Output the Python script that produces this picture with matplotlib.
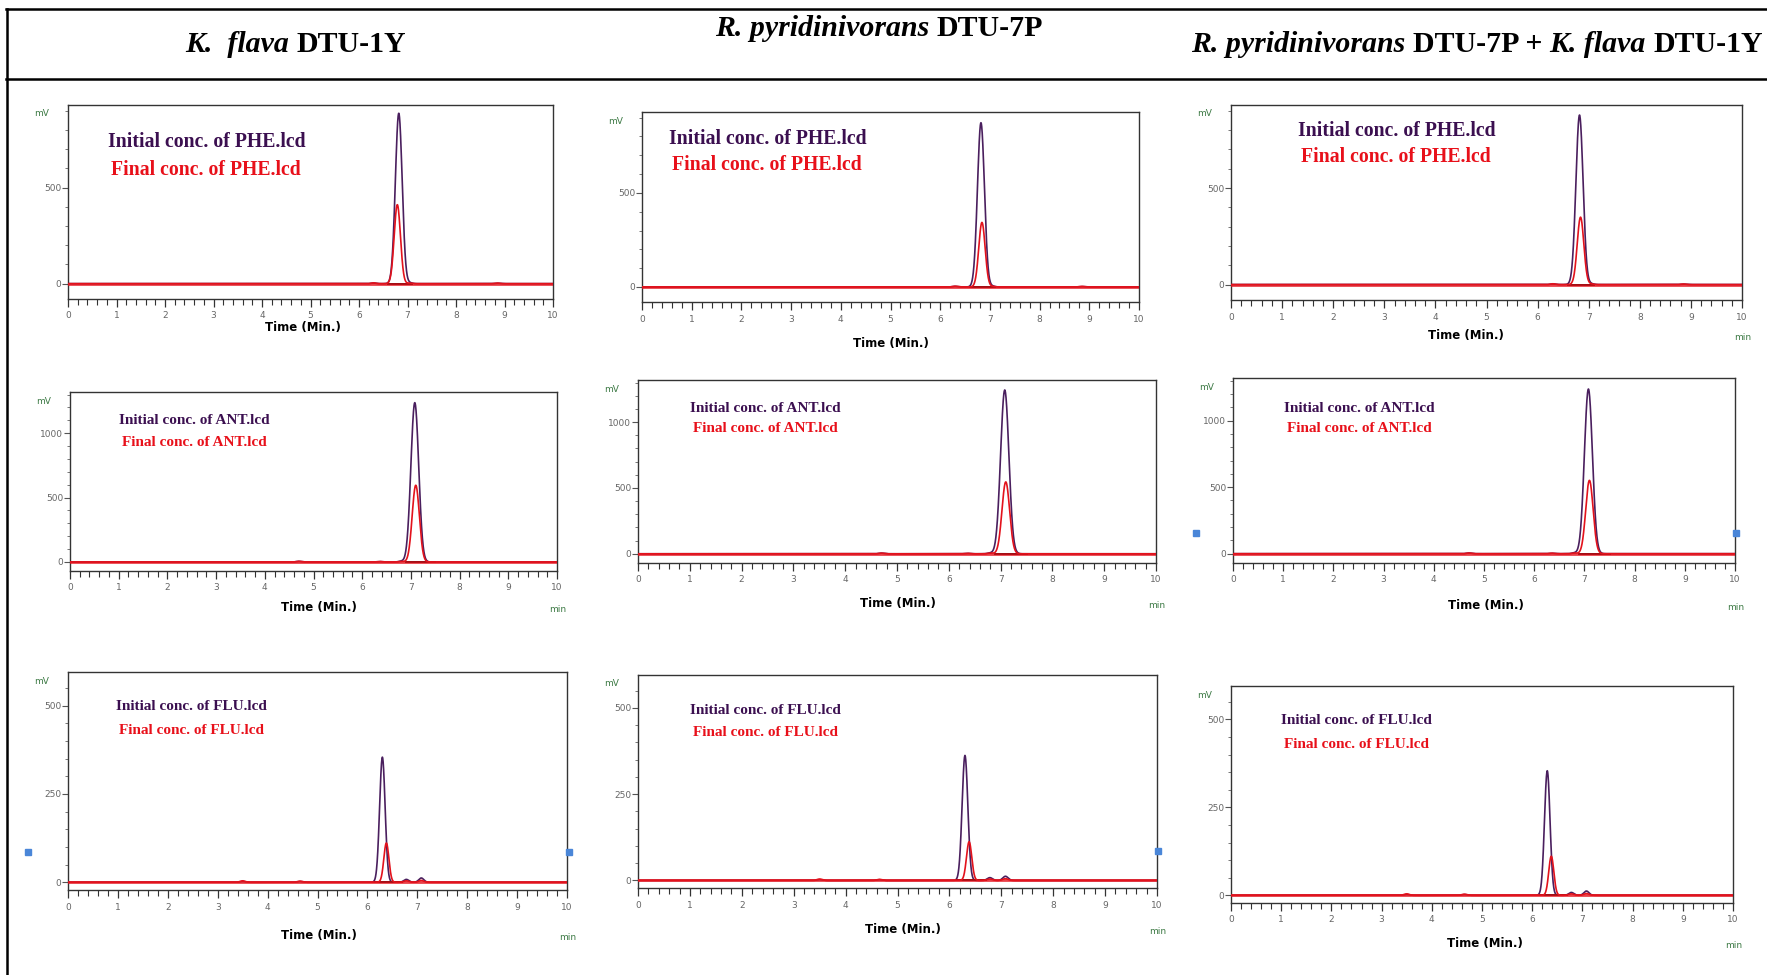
import matplotlib
matplotlib.use("Agg")
import matplotlib.pyplot as plt
import numpy as np
from matplotlib import font_manager
from matplotlib.lines import Line2D
from matplotlib.transforms import IdentityTransform

# strains (columns) and compounds (rows)
strain_titles = [
    [("K.  flava", "italic"), ("DTU-1Y", "normal")],
    [("R. pyridinivorans", "italic"), ("DTU-7P", "normal")],
    [("R. pyridinivorans", "italic"), ("DTU-7P +", "normal"),
     ("K. flava", "italic"), ("DTU-1Y", "normal")],
]
compounds = ["PHE", "ANT", "FLU"]

# main peak: retention time (min) and height (mV), one value per strain
rt_initial = [[6.82, 6.82, 6.82], [7.08, 7.08, 7.08], [6.30, 6.30, 6.30]]
rt_final = [[6.79, 6.84, 6.84], [7.10, 7.10, 7.10], [6.38, 6.38, 6.38]]
h_initial = [[887, 873, 878], [1237, 1244, 1237], [354, 362, 354]]
h_final = [[411, 343, 349], [596, 546, 551], [111, 112, 111]]
peak_sigma = [0.070, 0.080, 0.055]

# small extra peaks per compound: (time, initial height, final height)
minor_peaks = [
    [(6.30, 3, 4), (7.05, 4, 3), (8.85, 2, 3)],
    [(4.70, 5, 5), (6.35, 3, 4), (6.80, 6, 5)],
    [(3.50, 2, 4), (4.65, 2, 3), (6.78, 8, 4), (7.08, 12, 5)],
]
# integration baseline window of the main peak (min)
base_window = [(6.60, 7.10), (6.90, 7.50), (6.15, 6.70)]

y_limits = [(-80, 930), (-70, 1320), (-22, 595)]
y_major = [[0, 500], [0, 500, 1000], [0, 250, 500]]
y_minor_step = [100, 100, 50]

W, H = 1767, 975
fig = plt.figure(figsize=(W / 100, H / 100), dpi=100)
fig.patch.set_facecolor("white")
renderer = fig.canvas.get_renderer()
ident = IdentityTransform()

installed = {f.name for f in font_manager.fontManager.ttflist}
narrow = "Liberation Sans Narrow" if "Liberation Sans Narrow" in installed else "DejaVu Sans"
time_size = 12 if narrow == "Liberation Sans Narrow" else 8.5
serif = "Liberation Serif"

C_INIT = "#4a1f5e"
C_FINAL = "#e3121c"
C_INIT_TXT = "#3b0f50"
C_FINAL_TXT = "#e8101a"
C_GREEN = "#3d7a45"
C_TICK = "#666666"


def text_px(x, y, s, **kw):
    return fig.text(x, H - y, s, transform=ident, **kw)


def rich_text(xc, yc, pieces, size):
    probe = text_px(0, 0, "xx", fontsize=size, family=serif, fontweight="bold")
    w2 = probe.get_window_extent(renderer).width
    probe.set_text("x x")
    space = probe.get_window_extent(renderer).width - w2
    probe.remove()
    arts = [text_px(0, yc, s, fontsize=size, family=serif, fontweight="bold",
                    fontstyle=st, va="center", ha="left") for s, st in pieces]
    widths = [a.get_window_extent(renderer).width for a in arts]
    total = sum(widths) + space * (len(arts) - 1)
    x = xc - total / 2
    for a, w in zip(arts, widths):
        a.set_position((x, H - yc))
        x += w + space


def hline(x0, x1, y, lw=1.8):
    fig.add_artist(Line2D([x0, x1], [H - y, H - y], transform=ident, color="black", lw=lw))


# table header
hline(6, W, 9)
hline(6, W, 79)
fig.add_artist(Line2D([7, 7], [H - 9, 0], transform=ident, color="black", lw=1.8))
header_pos = [(296, 45), (879, 28), (1477, 45)]
for (xc, yc), pieces in zip(header_pos, strain_titles):
    rich_text(xc, yc, pieces, 21.5)

# panel frames in pixels: left, top, right, bottom
frames = [
    [(68, 105, 553, 299), (642, 112, 1139, 302), (1231, 105, 1742, 300)],
    [(70, 392, 557, 571), (638, 380, 1156, 563), (1233, 378, 1735, 563)],
    [(68, 672, 567, 890), (638, 675, 1157, 888), (1231, 686, 1733, 903)],
]
label_pos = [
    [(303, 328), (891, 343), (1466, 336)],
    [(319, 607), (898, 603), (1486, 606)],
    [(319, 935), (903, 930), (1485, 944)],
]
legend_pos = [
    [(108, 142, 170), (669, 139, 165), (1298, 131, 157)],
    [(119, 421, 442), (690, 409, 429), (1284, 409, 429)],
    [(116, 707, 730), (690, 710, 733), (1281, 721, 745)],
]
legend_size = [14.2, 11, 11]

t = np.linspace(0, 10, 4001)


def gauss(center, height, sigma):
    return height * np.exp(-0.5 * ((t - center) / sigma) ** 2)


for r, comp in enumerate(compounds):
    for c in range(3):
        left, top, right, bottom = frames[r][c]
        ax = fig.add_axes([left / W, 1 - bottom / H, (right - left) / W, (bottom - top) / H])

        sig = peak_sigma[r]
        y_init = gauss(rt_initial[r][c], h_initial[r][c], sig)
        y_fin = gauss(rt_final[r][c], h_final[r][c], sig * 0.92)
        for tm, hi, hf in minor_peaks[r]:
            y_init += gauss(tm, hi, 0.05)
            y_fin += gauss(tm, hf, 0.05)

        ax.plot(t, y_init, color=C_INIT, lw=1.2, zorder=3)
        b0, b1 = base_window[r]
        ax.plot([b0, b1], [0, 0], color="black", lw=1.4, zorder=4)
        ax.plot(t, y_fin, color=C_FINAL, lw=1.2, zorder=5)
        ax.axhline(0, color=C_FINAL, lw=2.0, alpha=0.8, zorder=4)

        ax.set_xlim(0, 10)
        ax.set_ylim(*y_limits[r])
        ax.set_xticks(range(11))
        ax.set_xticks(np.arange(0, 10.01, 0.2), minor=True)
        ax.set_yticks(y_major[r])
        lo, hi_lim = y_limits[r]
        step = y_minor_step[r]
        ax.set_yticks(np.arange(step, hi_lim, step), minor=True)
        ax.tick_params(axis="x", which="major", direction="out", length=6, width=0.9,
                       color="#333333", labelsize=6.5, labelcolor=C_TICK, pad=3)
        ax.tick_params(axis="x", which="minor", direction="out", length=4, width=0.8,
                       color="#333333")
        ax.tick_params(axis="y", which="major", direction="out", length=4, width=0.8,
                       color="#555555", labelsize=6.5, labelcolor=C_TICK, pad=1)
        ax.tick_params(axis="y", which="minor", direction="out", length=2.5, width=0.7,
                       color="#777777")
        for sp in ax.spines.values():
            sp.set_color("#333333")
            sp.set_linewidth(1.0)

        text_px(left - 34, top + 9, "mV", fontsize=6.5, color=C_GREEN, va="center")
        lx, ly = label_pos[r][c]
        text_px(lx, ly, "Time (Min.)", fontsize=time_size, family=narrow,
                fontweight="bold", ha="center", va="center")
        if not (r == 0 and c < 2):
            text_px(right - 8, ly + 2, "min", fontsize=6.5, color=C_GREEN, va="center")

        gx, gy1, gy2 = legend_pos[r][c]
        text_px(gx, gy1, f"Initial conc. of {comp}.lcd", fontsize=legend_size[r],
                family=serif, fontweight="bold", color=C_INIT_TXT, va="center")
        text_px(gx + 3, gy2, f"Final conc. of {comp}.lcd", fontsize=legend_size[r],
                family=serif, fontweight="bold", color=C_FINAL_TXT, va="center")

# small cursor markers on the panel edges
for mx, my in [(1196, 533), (1736, 533), (28, 852), (569, 852), (1158, 851)]:
    fig.add_artist(Line2D([mx], [H - my], transform=ident, marker="s", ms=4,
                          color="#4a86d8", lw=0))

fig.savefig("out.png", dpi=100, facecolor="white")
